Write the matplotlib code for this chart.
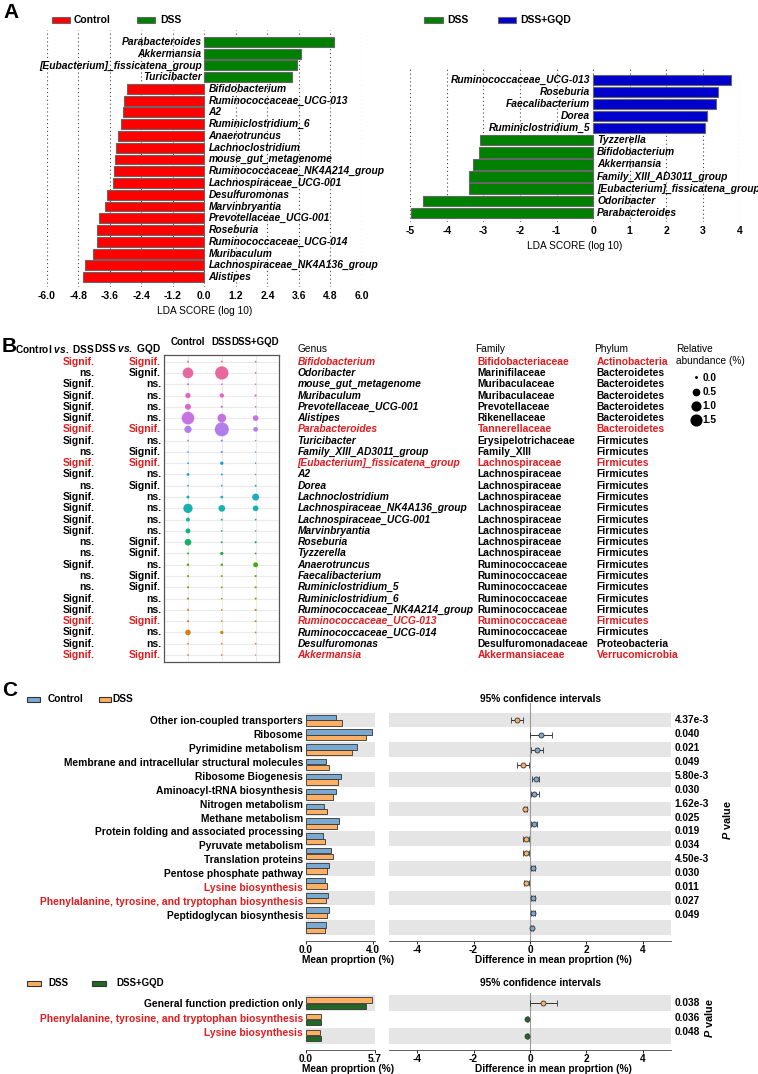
import numpy as np
import matplotlib
matplotlib.use('Agg')
import matplotlib.pyplot as plt
from matplotlib.patches import Rectangle
from matplotlib.lines import Line2D
from matplotlib.transforms import blended_transform_factory as blend

plt.rcParams.update({
    'font.family': 'Liberation Sans',
    'font.weight': 'bold',
    'axes.unicode_minus': False,
    'mathtext.fontset': 'custom',
    'mathtext.rm': 'Liberation Sans:bold',
    'mathtext.bf': 'Liberation Sans:bold',
    'mathtext.it': 'Liberation Sans:italic:bold',
})

# ---------------- data ----------------
# A (left): Control vs DSS
a1_genus = ['Parabacteroides', 'Akkermansia', '[Eubacterium]_fissicatena_group', 'Turicibacter',
            'Bifidobacterium', 'Ruminococcaceae_UCG-013', 'A2', 'Ruminiclostridium_6', 'Anaerotruncus',
            'Lachnoclostridium', 'mouse_gut_metagenome', 'Ruminococcaceae_NK4A214_group',
            'Lachnospiraceae_UCG-001', 'Desulfuromonas', 'Marvinbryantia', 'Prevotellaceae_UCG-001',
            'Roseburia', 'Ruminococcaceae_UCG-014', 'Muribaculum', 'Lachnospiraceae_NK4A136_group',
            'Alistipes']
a1_lda = [4.95, 3.68, 3.51, 3.34, -2.94, -3.07, -3.11, -3.17, -3.30, -3.36, -3.41, -3.45, -3.46,
          -3.70, -3.77, -4.00, -4.07, -4.08, -4.23, -4.54, -4.63]

# A (right): DSS vs DSS+GQD
a2_genus = ['Ruminococcaceae_UCG-013', 'Roseburia', 'Faecalibacterium', 'Dorea', 'Ruminiclostridium_5',
            'Tyzzerella', 'Bifidobacterium', 'Akkermansia', 'Family_XIII_AD3011_group',
            '[Eubacterium]_fissicatena_group', 'Odoribacter', 'Parabacteroides']
a2_lda = [3.78, 3.41, 3.35, 3.12, 3.05, -3.09, -3.12, -3.28, -3.39, -3.39, -4.64, -4.98]

# B: bubble table
b_genus = ['Bifidobacterium', 'Odoribacter', 'mouse_gut_metagenome', 'Muribaculum', 'Prevotellaceae_UCG-001',
           'Alistipes', 'Parabacteroides', 'Turicibacter', 'Family_XIII_AD3011_group',
           '[Eubacterium]_fissicatena_group', 'A2', 'Dorea', 'Lachnoclostridium',
           'Lachnospiraceae_NK4A136_group', 'Lachnospiraceae_UCG-001', 'Marvinbryantia', 'Roseburia',
           'Tyzzerella', 'Anaerotruncus', 'Faecalibacterium', 'Ruminiclostridium_5', 'Ruminiclostridium_6',
           'Ruminococcaceae_NK4A214_group', 'Ruminococcaceae_UCG-013', 'Ruminococcaceae_UCG-014',
           'Desulfuromonas', 'Akkermansia']
b_family = ['Bifidobacteriaceae', 'Marinifilaceae', 'Muribaculaceae', 'Muribaculaceae', 'Prevotellaceae',
            'Rikenellaceae', 'Tannerellaceae', 'Erysipelotrichaceae', 'Family_XIII', 'Lachnospiraceae',
            'Lachnospiraceae', 'Lachnospiraceae', 'Lachnospiraceae', 'Lachnospiraceae', 'Lachnospiraceae',
            'Lachnospiraceae', 'Lachnospiraceae', 'Lachnospiraceae', 'Ruminococcaceae', 'Ruminococcaceae',
            'Ruminococcaceae', 'Ruminococcaceae', 'Ruminococcaceae', 'Ruminococcaceae', 'Ruminococcaceae',
            'Desulfuromonadaceae', 'Akkermansiaceae']
b_phylum = ['Actinobacteria'] + ['Bacteroidetes'] * 6 + ['Firmicutes'] * 18 + ['Proteobacteria', 'Verrucomicrobia']
b_sig1 = ['Signif.', 'ns.', 'Signif.', 'Signif.', 'Signif.', 'Signif.', 'Signif.', 'Signif.', 'ns.', 'Signif.',
          'Signif.', 'ns.', 'Signif.', 'Signif.', 'Signif.', 'Signif.', 'ns.', 'ns.', 'Signif.', 'ns.', 'ns.',
          'Signif.', 'Signif.', 'Signif.', 'Signif.', 'Signif.', 'Signif.']
b_sig2 = ['Signif.', 'Signif.', 'ns.', 'ns.', 'ns.', 'ns.', 'Signif.', 'ns.', 'Signif.', 'Signif.',
          'ns.', 'Signif.', 'ns.', 'ns.', 'ns.', 'ns.', 'Signif.', 'Signif.', 'ns.', 'Signif.', 'Signif.',
          'ns.', 'ns.', 'Signif.', 'ns.', 'ns.', 'Signif.']
b_ctrl = [0.02, 1.50, 0.02, 0.34, 0.45, 2.12, 0.68, 0.01, 0.01, 0.01, 0.07, 0.01, 0.09, 1.12, 0.18, 0.30,
          0.57, 0.02, 0.05, 0.03, 0.03, 0.03, 0.03, 0.03, 0.40, 0.01, 0.01]
b_dss = [0.02, 2.33, 0.01, 0.22, 0.03, 0.98, 2.60, 0.03, 0.03, 0.12, 0.02, 0.01, 0.07, 0.57, 0.02, 0.01,
         0.02, 0.10, 0.05, 0.02, 0.02, 0.01, 0.01, 0.01, 0.12, 0.01, 0.01]
b_gqd = [0.01, 0.01, 0.00, 0.03, 0.01, 0.40, 0.26, 0.00, 0.00, 0.00, 0.00, 0.02, 0.62, 0.40, 0.01, 0.00,
         0.03, 0.01, 0.30, 0.03, 0.03, 0.03, 0.03, 0.02, 0.01, 0.01, 0.00]
legend_levels = [0.0, 0.5, 1.0, 1.5]

# C (top): Control vs DSS
c1_func = ['Other ion-coupled transporters', 'Ribosome', 'Pyrimidine metabolism',
           'Membrane and intracellular structural molecules', 'Ribosome Biogenesis',
           'Aminoacyl-tRNA biosynthesis', 'Nitrogen metabolism', 'Methane metabolism',
           'Protein folding and associated processing', 'Pyruvate metabolism', 'Translation proteins',
           'Pentose phosphate pathway', 'Lysine biosynthesis',
           'Phenylalanine, tyrosine, and tryptophan biosynthesis', 'Peptidoglycan biosynthesis']
c1_ctrl = [1.78, 3.94, 3.04, 1.18, 2.12, 1.82, 1.10, 2.00, 1.04, 1.50, 1.40, 1.12, 1.30, 1.36, 1.22]
c1_dss = [2.18, 3.58, 2.78, 1.40, 1.94, 1.64, 1.28, 1.88, 1.16, 1.64, 1.28, 1.24, 1.20, 1.26, 1.14]
c1_diff = [-0.46, 0.39, 0.24, -0.24, 0.20, 0.14, -0.17, 0.13, -0.14, -0.14, 0.11, -0.13, 0.11, 0.11, 0.07]
c1_lo = [-0.68, 0.00, 0.05, -0.45, 0.08, 0.02, -0.22, 0.05, -0.24, -0.24, 0.05, -0.22, 0.05, 0.05, 0.02]
c1_hi = [-0.24, 0.77, 0.45, -0.02, 0.33, 0.33, -0.12, 0.25, -0.05, -0.05, 0.16, -0.05, 0.17, 0.17, 0.12]
c1_p = ['4.37e-3', '0.040', '0.021', '0.049', '5.80e-3', '0.030', '1.62e-3', '0.025', '0.019', '0.034',
        '4.50e-3', '0.030', '0.011', '0.027', '0.049']

# C (bottom): DSS vs DSS+GQD
c2_func = ['General function prediction only', 'Phenylalanine, tyrosine, and tryptophan biosynthesis',
           'Lysine biosynthesis']
c2_dss = [5.42, 1.20, 1.12]
c2_gqd = [4.94, 1.28, 1.24]
c2_diff = [0.47, -0.09, -0.09]
c2_lo = [0.00, -0.12, -0.12]
c2_hi = [0.95, -0.06, -0.06]
c2_p = ['0.038', '0.036', '0.048']

red_funcs = ['Lysine biosynthesis', 'Phenylalanine, tyrosine, and tryptophan biosynthesis']

RED = '#E41A1C'
C_RED, C_GREEN, C_BLUE = '#FF0000', '#008000', '#0000CC'
P_BLUE, P_ORANGE, P_GREEN = '#79A9D1', '#FDB063', '#1E6B22'
FS = 7.35

W, H = 758, 1074
fig = plt.figure(figsize=(W / 100, H / 100), dpi=100)


def box(x0, y0, x1, y1):
    return [x0 / W, 1 - y1 / H, (x1 - x0) / W, (y1 - y0) / H]


def ftext(x, y, s, **kw):
    return fig.text(x / W, 1 - y / H, s, **kw)


def key(x, y, w, h, fc, ec, label, tx, fs=7.5):
    fig.add_artist(Rectangle((x / W, 1 - (y + h / 2) / H), w / W, h / H,
                             transform=fig.transFigure, fc=fc, ec=ec, lw=0.8))
    ftext(tx, y, label, va='center', ha='left', fontsize=fs)


def hcl(h, c=90.0, l=58.0):
    # polar LUV -> sRGB (same as R's hcl())
    hr = np.deg2rad(h)
    U, V = c * np.cos(hr), c * np.sin(hr)
    xn, yn, zn = 95.047, 100.0, 108.883
    den = xn + 15 * yn + 3 * zn
    un, vn = 4 * xn / den, 9 * yn / den
    Y = yn * ((l + 16) / 116) ** 3
    u = U / (13 * l) + un
    v = V / (13 * l) + vn
    X = 9.0 * Y * u / (4 * v)
    Z = -X / 3 - 5 * Y + 3 * Y / v
    X, Y, Z = X / 100, Y / 100, Z / 100
    rgb = np.array([3.240479 * X - 1.537150 * Y - 0.498535 * Z,
                    -0.969256 * X + 1.875992 * Y + 0.041556 * Z,
                    0.055648 * X - 0.204043 * Y + 1.057311 * Z])
    rgb = np.clip(rgb, 0, None)
    rgb = np.where(rgb > 0.0031308, 1.055 * rgb ** (1 / 2.4) - 0.055, 12.92 * rgb)
    return tuple(np.clip(rgb, 0, 1))


def dot_pt(v):
    # diameter in points, area grows linearly with abundance
    return np.sqrt(2.25 + 75 * np.asarray(v)) * 0.72


# ---------------- A ----------------
def lda_panel(rect, names, vals, lim, ticks, ticklabels, pos_c, neg_c, ylim):
    ax = fig.add_axes(rect)
    y = np.arange(len(names))
    cols = [pos_c if v > 0 else neg_c for v in vals]
    ax.barh(y, vals, height=0.85, color=cols, edgecolor='#666666', linewidth=0.8, zorder=3)
    for yi, (n, v) in enumerate(zip(names, vals)):
        ax.annotate(n, (0, yi), xytext=(-2 if v > 0 else 3, 0), textcoords='offset points',
                    ha='right' if v > 0 else 'left', va='center', fontsize=FS, style='italic', zorder=4)
    ax.set_xlim(lim)
    ax.set_ylim(ylim)
    ax.set_xticks(ticks, ticklabels)
    ax.xaxis.grid(True, linestyle=(0, (1, 2.5)), color='#444444', lw=0.8)
    ax.set_axisbelow(True)
    for s in ax.spines.values():
        s.set_visible(False)
    ax.tick_params(length=0, left=False, labelleft=False, pad=3, labelsize=7.5)
    ax.set_xlabel('LDA SCORE (log 10)', fontsize=7.3, labelpad=3.5)
    return ax


t1 = np.round(np.arange(-6, 6.01, 1.2), 1) + 0.0
lda_panel(box(46.7, 30, 362, 287), a1_genus, a1_lda, (-6, 6), t1, [f'{t:.1f}' for t in t1],
          C_GREEN, C_RED, (20.85, -1.02))
t2 = np.arange(-5, 5)
lda_panel(box(410.3, 68, 739.3, 222), a2_genus, a2_lda, (-5, 4), t2, [str(t) for t in t2],
          C_BLUE, C_GREEN, (11.77, -1.0))

key(51.7, 20, 18, 6, C_RED, '#666666', 'Control', 74)
key(136.7, 20, 18, 6, C_GREEN, '#666666', 'DSS', 160.5)
key(424.3, 20, 19, 6, C_GREEN, '#666666', 'DSS', 447.5)
key(498.3, 20, 18, 6, C_BLUE, '#666666', 'DSS+GQD', 520.5)
ftext(3, 13, 'A', fontsize=15, va='center', ha='left')

# ---------------- B ----------------
axB = fig.add_axes(box(164.3, 355, 279.3, 661.7))
nB = len(b_genus)
yB = np.arange(nB)
row_cols = [hcl(h) for h in 15 + (nB - 1 - yB) * 360 / nB]
for j, vals in enumerate([b_ctrl, b_dss, b_gqd]):
    axB.scatter(np.full(nB, j), yB, s=dot_pt(vals) ** 2, c=row_cols, alpha=0.9, linewidths=0, zorder=3)
axB.set_xlim(-0.70, 2.70)
axB.set_ylim(nB - 1 + 0.59, -0.59)
axB.set_yticks(yB)
axB.set_xticks([0, 1, 2], ['Control', 'DSS', 'DSS+GQD'])
axB.grid(color='#EBEBEB', lw=0.8, zorder=0)
axB.tick_params(left=False, labelleft=False, bottom=False, labelbottom=False, top=False,
                labeltop=True, pad=2, labelsize=7.0)
for s in axB.spines.values():
    s.set_color('#555555')
    s.set_linewidth(0.9)

trB = blend(fig.transFigure, axB.transData)
for i in range(nB):
    hit = b_sig1[i] == 'Signif.' and b_sig2[i] == 'Signif.'
    c = RED if hit else 'black'
    axB.text(94.3 / W, i, b_sig1[i], transform=trB, ha='right', va='center', fontsize=7.5, color=c)
    axB.text(161 / W, i, b_sig2[i], transform=trB, ha='right', va='center', fontsize=7.5, color=c)
    axB.text(297.7 / W, i, b_genus[i], transform=trB, ha='left', va='center', fontsize=FS,
             style='italic', color=c)
    axB.text(477.7 / W, i, b_family[i], transform=trB, ha='left', va='center', fontsize=FS, color=c)
    axB.text(596.7 / W, i, b_phylum[i], transform=trB, ha='left', va='center', fontsize=FS, color=c)

ftext(95, 349, r'Control $\mathit{vs.}$ DSS', ha='right', va='center', fontsize=7.3)
ftext(161, 349, r'DSS $\mathit{vs.}$ GQD', ha='right', va='center', fontsize=7.3)
ftext(297.7, 349, 'Genus', ha='left', va='center', fontsize=7.3, fontweight='normal')
ftext(475, 349, 'Family', ha='left', va='center', fontsize=7.3, fontweight='normal')
ftext(594.3, 349, 'Phylum', ha='left', va='center', fontsize=7.3, fontweight='normal')
ftext(676, 349, 'Relative', ha='left', va='center', fontsize=7.3, fontweight='normal')
ftext(676, 361, 'abundance (%)', ha='left', va='center', fontsize=7.3, fontweight='normal')
handles = [Line2D([], [], marker='o', ls='', color='black', markersize=dot_pt(v)) for v in legend_levels]
axB.legend(handles, [f'{v:.1f}' for v in legend_levels],
           loc='upper left', bbox_to_anchor=(689 / W, 1 - 373 / H), bbox_transform=fig.transFigure,
           frameon=False, fontsize=7.3, labelspacing=0.4, handletextpad=0.0, handlelength=1.3,
           borderpad=0, borderaxespad=0)
ftext(2, 347, 'B', fontsize=15, va='center', ha='left')


# ---------------- C ----------------
def ext_panel(y0, y1, names, a_vals, b_vals, a_col, b_col, diffs, lo, hi, pvals, xmax, xticks, step,
              y_title, y_xlab, y_pv, x_pv):
    n = len(names)
    rows = np.arange(n)
    axM = fig.add_axes(box(306, y0, 375, y1))
    axD = fig.add_axes(box(389, y0, 671, y1))
    for ax in (axM, axD):
        for i in rows[::2]:
            ax.axhspan(i - 0.5, i + 0.5, color='#E5E5E5', lw=0, zorder=0)
        ax.set_ylim(n - 0.1, -0.5)
        for s in ('left', 'right', 'top'):
            ax.spines[s].set_visible(False)
        ax.spines['bottom'].set_color('#444444')
        ax.spines['bottom'].set_linewidth(0.6)
        ax.tick_params(axis='x', length=2, width=0.6, pad=1, labelsize=7.3)
    axM.barh(rows - 0.19, a_vals, height=0.36, color=a_col, edgecolor='#333333', lw=0.6, zorder=2)
    axM.barh(rows + 0.19, b_vals, height=0.36, color=b_col, edgecolor='#333333', lw=0.6, zorder=2)
    axM.set_xlim(0, xmax)
    axM.set_xticks(xticks, [f'{t:.1f}' for t in xticks])
    axM.set_yticks(rows * step, names)
    axM.tick_params(axis='y', length=0, pad=2, labelsize=FS)
    for lab in axM.get_yticklabels():
        if lab.get_text() in red_funcs:
            lab.set_color(RED)

    axD.axvline(0, ymin=0, ymax=1.04, color='#9A9A9A', lw=0.8, zorder=1, clip_on=False)
    for i, d in enumerate(diffs):
        axD.errorbar(d, i, xerr=[[d - lo[i]], [hi[i] - d]], fmt='o', ms=3.6,
                     mfc=a_col if d > 0 else b_col, mec='#333333', mew=0.6, ecolor='#333333',
                     elinewidth=0.7, capsize=2, capthick=0.7, zorder=3)
    axD.set_xlim(-5, 5)
    axD.set_xticks([-4, -2, 0, 2, 4])
    axD.set_yticks([])
    trD = blend(axD.transAxes, axD.transData)
    for i, p in enumerate(pvals):
        axD.text(1.013, i * step, p, transform=trD, ha='left', va='center', fontsize=7.3)
    ftext(541, y_title, '95% confidence intervals', ha='center', va='center', fontsize=7.3)
    ftext(348, y_xlab, 'Mean proprtion (%)', ha='center', va='center', fontsize=7.3)
    ftext(553, y_xlab, 'Difference in mean proprtion (%)', ha='center', va='center', fontsize=7.3)
    ftext(x_pv, y_pv, r'$\mathit{P}$ value', ha='center', va='center', rotation=90, fontsize=7.8)


ext_panel(712.6, 941, c1_func, c1_ctrl, c1_dss, P_BLUE, P_ORANGE, c1_diff, c1_lo, c1_hi, c1_p,
          4.14, [0.0, 4.0], 0.939, 699, 960, 820, 727)
ext_panel(995.4, 1050, c2_func, c2_dss, c2_gqd, P_ORANGE, P_GREEN, c2_diff, c2_lo, c2_hi, c2_p,
          5.7, [0.0, 5.7], 0.90, 983, 1069, 1018, 709)

key(26.7, 699, 13, 5, P_BLUE, '#333333', 'Control', 47.5, fs=7.3)
key(99, 699, 12, 5, P_ORANGE, '#333333', 'DSS', 112.5, fs=7.3)
key(26.7, 983, 14, 5, P_ORANGE, '#333333', 'DSS', 48.5, fs=7)
key(92, 983, 14, 5, P_GREEN, '#333333', 'DSS+GQD', 116.5, fs=7)
ftext(2, 691, 'C', fontsize=15, va='center', ha='left')

fig.savefig('out.png', dpi=100)
